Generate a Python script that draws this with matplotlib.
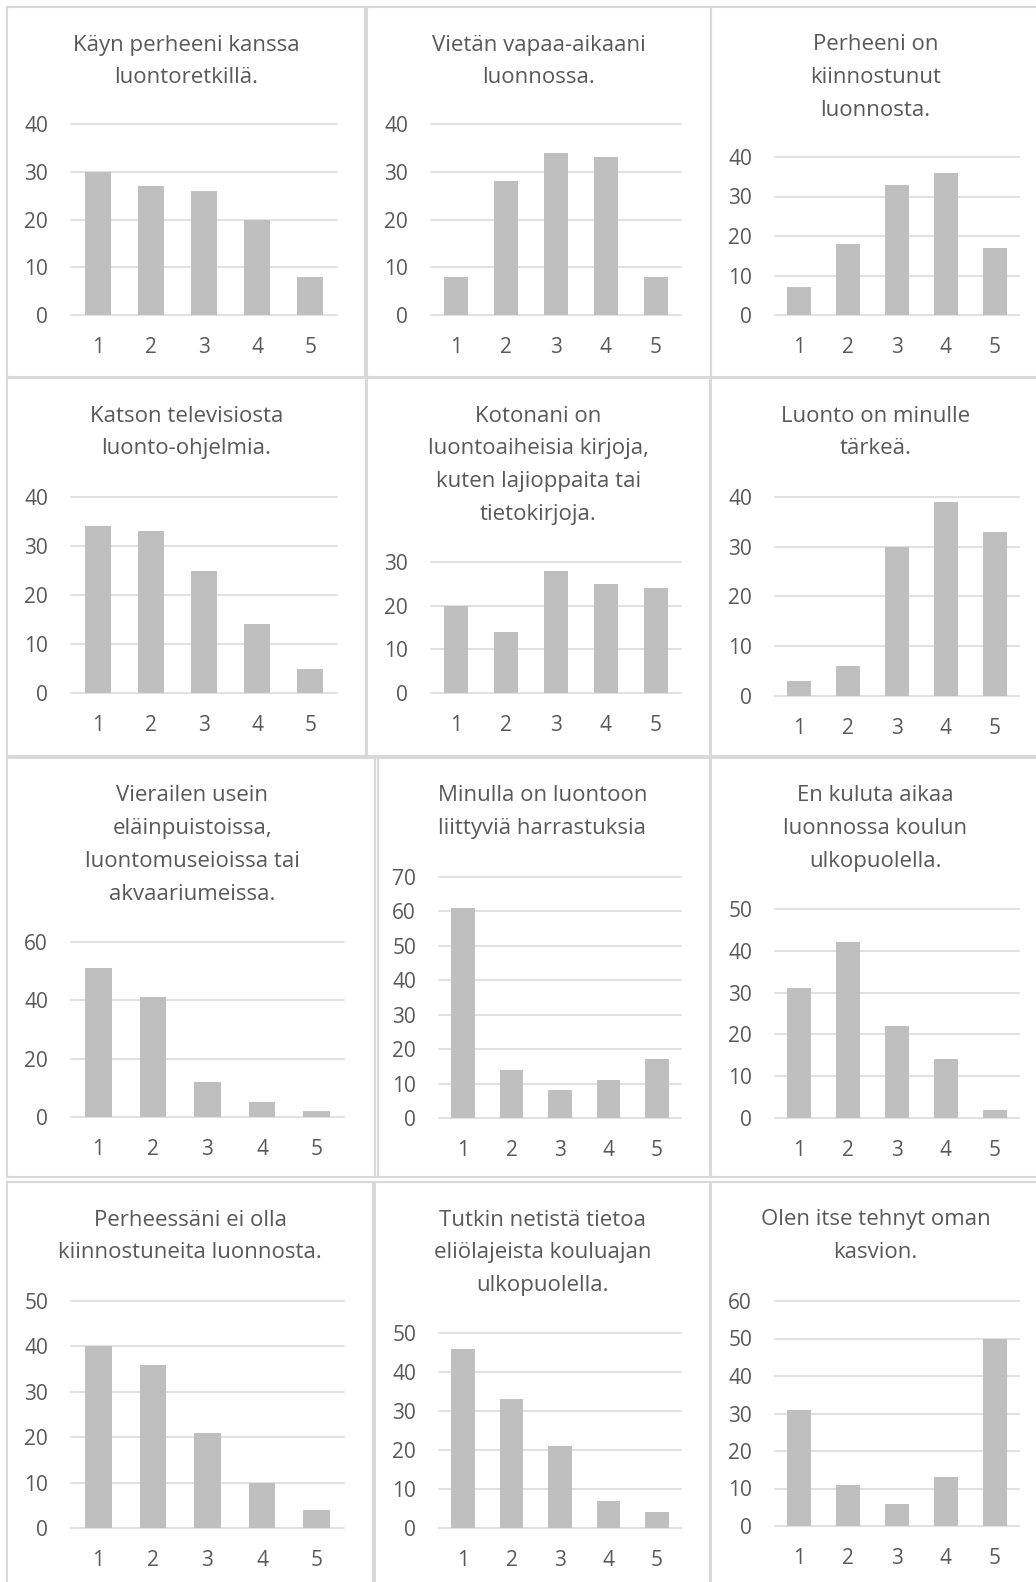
import matplotlib
matplotlib.use('Agg')
import matplotlib.pyplot as plt
from matplotlib.patches import Rectangle

plt.rcParams['font.family'] = ['Open Sans', 'DejaVu Sans']

# Answer options (scale 1-5)
categories = ['1', '2', '3', '4', '5']

# Chart titles (line breaks as in the original charts)
titles = [
    'Käyn perheeni kanssa\nluontoretkillä.',
    'Vietän vapaa-aikaani\nluonnossa.',
    'Perheeni on\nkiinnostunut\nluonnosta.',
    'Katson televisiosta\nluonto-ohjelmia.',
    'Kotonani on\nluontoaiheisia kirjoja,\nkuten lajioppaita tai\ntietokirjoja.',
    'Luonto on minulle\ntärkeä.',
    'Vierailen usein\neläinpuistoissa,\nluontomuseioissa tai\nakvaariumeissa.',
    'Minulla on luontoon\nliittyviä harrastuksia',
    'En kuluta aikaa\nluonnossa koulun\nulkopuolella.',
    'Perheessäni ei olla\nkiinnostuneita luonnosta.',
    'Tutkin netistä tietoa\neliölajeista kouluajan\nulkopuolella.',
    'Olen itse tehnyt oman\nkasvion.',
]

# Answer counts per statement
retket = [30, 27, 26, 20, 8]
vapaa_aika = [8, 28, 34, 33, 8]
perhe_kiinnostunut = [7, 18, 33, 36, 17]
tv_ohjelmat = [34, 33, 25, 14, 5]
kirjat = [20, 14, 28, 25, 24]
luonto_tarkea = [3, 6, 30, 39, 33]
vierailut = [51, 41, 12, 5, 2]
harrastukset = [61, 14, 8, 11, 17]
ei_aikaa = [31, 42, 22, 14, 2]
perhe_ei_kiinn = [40, 36, 21, 10, 4]
netti = [46, 33, 21, 7, 4]
kasvio = [31, 11, 6, 13, 50]

values = [retket, vapaa_aika, perhe_kiinnostunut, tv_ohjelmat, kirjat,
          luonto_tarkea, vierailut, harrastukset, ei_aikaa, perhe_ei_kiinn,
          netti, kasvio]

# y-axis max and step for each chart
ymax = [40, 40, 40, 40, 30, 40, 60, 70, 50, 50, 50, 60]
ystep = [10, 10, 10, 10, 10, 10, 20, 10, 10, 10, 10, 10]

W, H = 1036, 1582

# panel frames in pixels: x0, y0, x1, y1
frames = [
    (7, 7, 365, 377), (367, 7, 711, 377), (711, 7, 1040, 377),
    (7, 378, 366, 756), (367, 378, 710, 756), (711, 378, 1040, 756),
    (7, 758, 378, 1177), (375, 758, 710, 1177), (711, 758, 1040, 1177),
    (7, 1182, 373, 1590), (375, 1182, 710, 1590), (711, 1182, 1040, 1590),
]
# plot areas in pixels: left, right, top (y max), bottom (y = 0)
areas = [
    (71, 337, 124, 315), (431, 681, 124, 315), (775, 1019, 157, 315),
    (71, 337, 497, 693), (431, 681, 562, 693), (775, 1019, 497, 696),
    (71, 344, 942, 1117), (439, 681, 877, 1118), (775, 1019, 909, 1118),
    (71, 344, 1301, 1528), (439, 681, 1333, 1528), (775, 1019, 1301, 1526),
]

text_color = '#595959'
grid_color = '#d9d9d9'
bar_color = '#bfbfbf'

fig = plt.figure(figsize=(W / 100, H / 100), dpi=100)

for i in range(12):
    x0, y0, x1, y1 = frames[i]
    fig.add_artist(Rectangle((x0 / W, 1 - y1 / H), (x1 - x0) / W, (y1 - y0) / H,
                             transform=fig.transFigure, fill=False,
                             edgecolor=grid_color, linewidth=1.5))

    # title lines
    cx = (x0 + x1) / 2
    for j, line in enumerate(titles[i].split('\n')):
        ty = y0 + 38 + j * 32.7
        fig.text(cx / W, 1 - ty / H, line, ha='center', va='center',
                 fontsize=16, color=text_color)

    left, right, top, bottom = areas[i]
    ax = fig.add_axes([left / W, 1 - bottom / H, (right - left) / W, (bottom - top) / H])
    xs = range(1, len(categories) + 1)
    ax.bar(xs, values[i], width=0.49, color=bar_color, zorder=2)
    ticks = list(range(0, ymax[i] + 1, ystep[i]))
    for t in ticks:
        ax.axhline(t, color=grid_color, linewidth=1.1, zorder=1, clip_on=False)
    ax.set_xlim(0.5, len(categories) + 0.5)
    ax.set_ylim(0, ymax[i])
    ax.set_yticks(ticks)
    ax.set_xticks(list(xs))
    ax.set_xticklabels(categories)
    for s in ax.spines.values():
        s.set_visible(False)
    ax.tick_params(axis='y', length=0, pad=16.5, labelsize=15, labelcolor=text_color)
    ax.tick_params(axis='x', length=0, pad=16, labelsize=15, labelcolor=text_color)
    ax.set_facecolor('none')

fig.savefig('out.png', dpi=100, facecolor='white')
